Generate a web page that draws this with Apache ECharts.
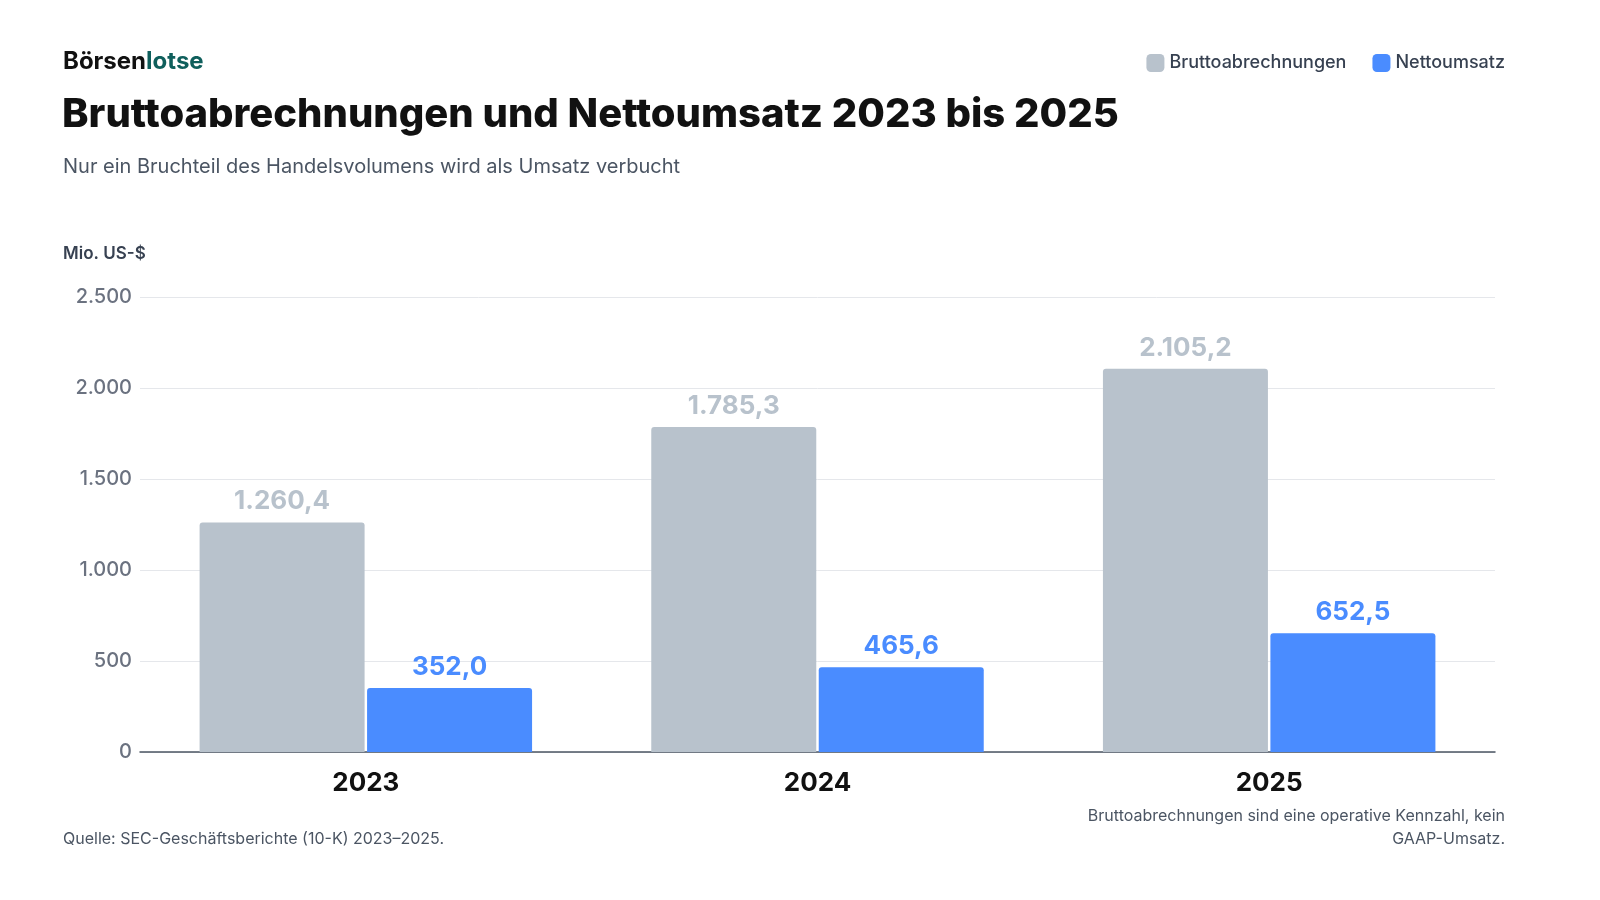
<!DOCTYPE html>
<html><head><meta charset="utf-8">
<script src="https://cdn.jsdelivr.net/npm/echarts@6/dist/echarts.min.js"></script>
<style>html,body{margin:0;background:#fff}#c{width:1600px;height:900px}</style>
</head><body><div id="c"></div>
<script>
const categories = ['2023','2024','2025'];
const brutto = [1260.4, 1785.3, 2105.2];
const netto = [352.0, 465.6, 652.5];
const yTicks = [0, 500, 1000, 1500, 2000, 2500];
const fmt = v => { const p = v.toFixed(1).split('.'); return p[0].replace(/\B(?=(\d{3})+(?!\d))/g,'.') + ',' + p[1]; };
const fmtInt = v => String(v).replace(/\B(?=(\d{3})+(?!\d))/g,'.');
const F = 'Inter, "Noto Sans", sans-serif';
const note = {fontSize:16,fontWeight:'normal',color:'#4b5563',fontFamily:F};
const chart = echarts.init(document.getElementById('c'));
chart.setOption({
  animation:false,
  textStyle:{fontFamily:F},
  title:[
    {text:'{a|Börsen}{b|lotse}',left:58,top:45,textStyle:{rich:{a:{fontSize:24,fontWeight:'bold',color:'#111',fontFamily:F},b:{fontSize:24,fontWeight:'bold',color:'#0f5f5c',fontFamily:F}}}},
    {text:'Bruttoabrechnungen und Nettoumsatz 2023 bis 2025',left:57,top:90,textStyle:{fontSize:40,fontWeight:800,color:'#111',fontFamily:F,letterSpacing:-1.8}},
    {text:'Nur ein Bruchteil des Handelsvolumens wird als Umsatz verbucht',left:58,top:152,textStyle:{fontSize:20,fontWeight:'normal',color:'#4b5563',fontFamily:F}},
    {text:'Mio. US-$',left:58,top:240,textStyle:{fontSize:17,fontWeight:'600',color:'#374151',fontFamily:F}},
    {text:'Quelle: SEC-Geschäftsberichte (10-K) 2023–2025.',left:58,top:826,textStyle:note},
    {text:'Bruttoabrechnungen sind eine operative Kennzahl, kein',right:90,top:803,textStyle:note},
    {text:'GAAP-Umsatz.',right:90,top:826,textStyle:note}
  ],
  legend:{right:90,top:49,itemWidth:18,itemHeight:18,itemGap:26,icon:'roundRect',
    textStyle:{fontSize:18,color:'#374151',fontFamily:F,fontWeight:500},
    data:['Bruttoabrechnungen','Nettoumsatz']},
  grid:{left:140,right:105,top:297,bottom:148},
  xAxis:{type:'category',data:categories,axisTick:{show:false},
    axisLine:{lineStyle:{color:'#4b5563',width:1.5}},
    axisLabel:{fontSize:26,fontWeight:'bold',color:'#111',margin:18,fontFamily:F}},
  yAxis:{type:'value',min:0,max:2500,interval:500,
    axisLabel:{fontSize:20,color:'#6b7280',fontWeight:500,margin:8,formatter:v=>fmtInt(v),fontFamily:F},
    splitLine:{lineStyle:{color:'#e5e7eb'}}},
  series:[
    {name:'Bruttoabrechnungen',type:'bar',data:brutto,barWidth:165,barGap:'1.5%',
      itemStyle:{color:'#b8c2cc',borderRadius:[3,3,0,0]},
      label:{show:true,position:'top',distance:8,formatter:p=>fmt(p.value),fontSize:26,fontWeight:'bold',color:'#b8c2cc',fontFamily:F}},
    {name:'Nettoumsatz',type:'bar',data:netto,barWidth:165,
      itemStyle:{color:'#4a8cff',borderRadius:[3,3,0,0]},
      label:{show:true,position:'top',distance:8,formatter:p=>fmt(p.value),fontSize:26,fontWeight:'bold',color:'#4a8cff',fontFamily:F}}
  ]
});
</script></body></html>
